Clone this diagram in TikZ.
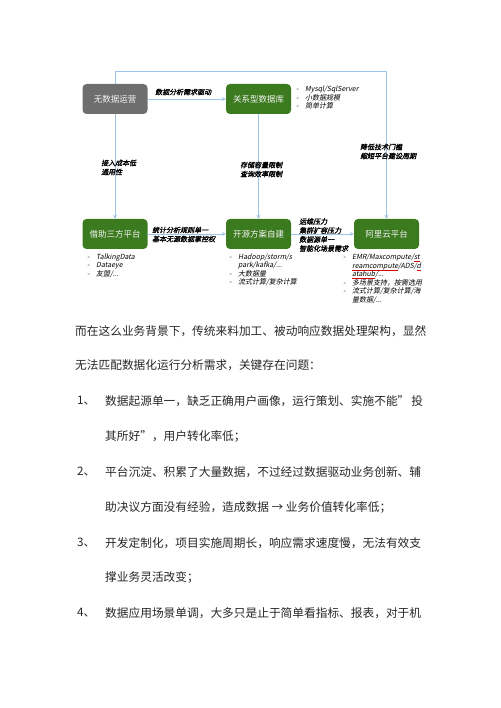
\documentclass[tikz,border=0pt]{standalone}
\usepackage{fontspec}
\setmainfont{Noto Sans CJK SC}
\newfontfamily\labfont[FakeSlant=0.2,FakeBold=1.5]{Noto Sans CJK SC}
\newfontfamily\itemfont[FakeSlant=0.2]{Noto Sans CJK SC}
\usetikzlibrary{positioning}
\definecolor{boxgreen}{HTML}{3B7A1F}
\definecolor{boxgray}{HTML}{6E6E6E}
\definecolor{flowblue}{HTML}{9DC3E6}
\newcommand\itm{\makebox[9pt][l]{-}}
\newcommand\itmgap{\hspace*{9pt}}
\newcommand\redul[1]{\sbox0{#1}\rlap{\color{red!85!black}\rule[-1.8pt]{\wd0}{0.35pt}}\usebox0}
\tikzset{
	stage/.style={rounded corners=4pt, minimum width=65pt, minimum height=30pt, inner sep=0pt,
		text=white!92!gray, font=\fontsize{8.5}{10}\selectfont},
	greenstage/.style={stage, fill=boxgreen},
	graystage/.style={stage, fill=boxgray},
	flow/.style={draw=flowblue, line width=0.8pt, ->},
	why/.style={font=\labfont\fontsize{7}{9}\selectfont, align=left, anchor=west, inner sep=0pt},
	feat/.style={font=\itemfont\fontsize{7}{8.5}\selectfont, align=left, anchor=north west, inner sep=0pt},
	para/.style={font=\fontsize{11.7}{14}\selectfont, anchor=west, inner sep=0pt, text=black!85}
}
\begin{document}
\begin{tikzpicture}[x=1pt, y=-1pt, >=stealth, line join=round, line cap=round]
	\useasboundingbox (0,0) rectangle (500,708);
	% stages
	\node[graystage] (nodata) at (115,99) {无数据运营};
	\node[greenstage] (rdb) at (258.5,99) {关系型数据库};
	\node[greenstage] (third) at (115,234) {借助三方平台};
	\node[greenstage] (oss) at (258.5,234) {开源方案自建};
	\node[greenstage] (aliyun) at (386.5,234) {阿里云平台};
	\coordinate (topright) at (386.5,71);
	% flows
	\draw[flow] (nodata) -- (rdb);
	\draw[flow] (nodata) -- (third);
	\draw[flow] (rdb) -- (oss);
	\draw[flow] (third) -- (oss);
	\draw[flow] (oss) -- (aliyun);
	\draw[flow] (nodata.north) -- (nodata.north |- topright) -- (topright) -- (aliyun.north);
	% reasons
	\node[why] (r1) at (155,92) {数据分析需求驱动};
	\node[why] (r2) at (101,167.5) {接入成本低\\通用性};
	\node[why] (r3) at (240,169.5) {存储容量限制\\查询效率限制};
	\node[why] (r4) at (360,151.5) {降低技术门槛\\缩短平台建设周期};
	\node[why] (r5) at (152,234.5) {统计分析规则单一\\基本无源数据掌控权};
	\node[why] (r6) at (299,235) {运维压力\\集群扩容压力\\数据源单一\\智能化场景需求};
	% features
	\node[feat] (f1) at (296,86) {\itm Mysql/SqlServer\\\itm 小数据规模\\\itm 简单计算};
	\node[feat] (f2) at (87,253.5) {\itm TalkingData\\\itm Dataeye\\\itm 友盟/...};
	\node[feat] (f3) at (229,253.5) {\itm Hadoop/storm/s\\\itmgap park/kafka/...\\\itm 大数据量\\\itm 流式计算/复杂计算};
	\node[feat] (f4) at (343,254) {\itm EMR/Maxcompute/\redul{st}\\\itmgap \redul{reamcompute}/ADS/\redul{d}\\\itmgap \redul{atahub}/...\\\itm 多场景支持，按需选用\\\itm 流式计算/复杂计算/海\\\itmgap 量数据/...};
	% text
	\node[para] (p1) at (75,331) {而在这么业务背景下，传统来料加工、被动响应数据处理架构，显然};
	\node[para] (p2) at (75,365) {无法匹配数据化运行分析需求，关键存在问题：};
	\foreach \n/\y in {1/401,2/472,3/543,4/613}
		\node[para] (num\n) at (77,\y) {\n、};
	\node[para] (q1a) at (105,401) {\makebox[318pt][l]{数据起源单一，缺乏正确用户画像，运行策划、实施不能”\hfill 投}};
	\node[para] (q1b) at (105,436) {其所好”，用户转化率低；};
	\node[para] (q2a) at (105,472) {平台沉淀、积累了大量数据，不过经过数据驱动业务创新、辅};
	\node[para] (q2b) at (105,507) {助决议方面没有经验，造成数据 → 业务价值转化率低；};
	\node[para] (q3a) at (105,543) {开发定制化，项目实施周期长，响应需求速度慢，无法有效支};
	\node[para] (q3b) at (105,577) {撑业务灵活改变；};
	\node[para] (q4a) at (105,613) {数据应用场景单调，大多只是止于简单看指标、报表，对于机};
\end{tikzpicture}
\end{document}
